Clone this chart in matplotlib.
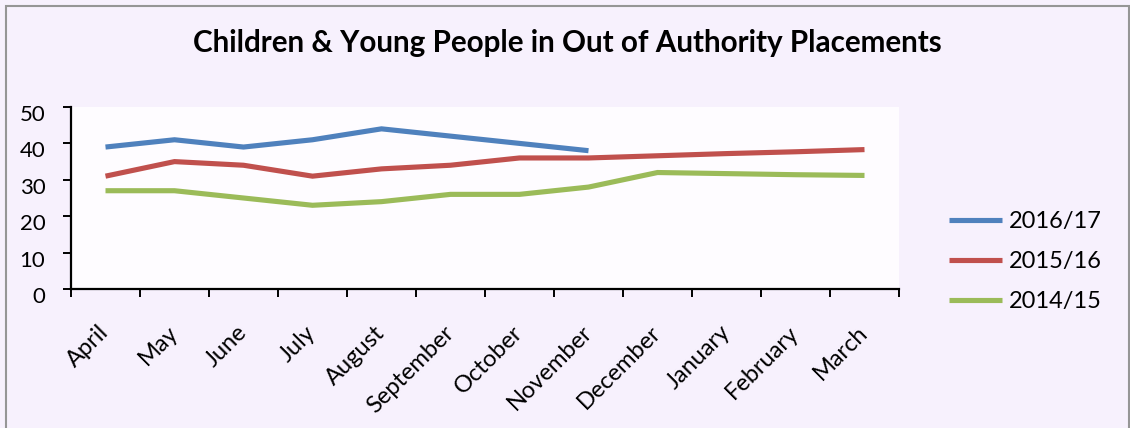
import matplotlib
matplotlib.use("Agg")
import matplotlib.pyplot as plt
import matplotlib.transforms as mtransforms
from matplotlib.patches import Rectangle

months = ["April", "May", "June", "July", "August", "September", "October",
          "November", "December", "January", "February", "March"]
series_2016_17 = [39, 41, 39, 41, 44, 42, 40, 38]
series_2015_16 = [31, 35, 34, 31, 33, 34, 36, 36, 36.6, 37.2, 37.7, 38.3]
series_2014_15 = [27, 27, 25, 23, 24, 26, 26, 28, 32, 31.7, 31.4, 31.2]
series_labels = ["2016/17", "2015/16", "2014/15"]
series_colors = ["#4F81BD", "#C0504D", "#9BBB59"]
y_ticks = [0, 10, 20, 30, 40, 50]
title = "Children & Young People in Out of Authority Placements"

W, H = 1130, 428
plt.rcParams["font.family"] = ["Lato", "DejaVu Sans"]

fig = plt.figure(figsize=(W / 100, H / 100), dpi=100)
fig.patch.set_facecolor("#F7F1FD")

# outer frame of the chart
fig.add_artist(Rectangle((5.5 / W, -0.05), (1128.5 - 5.5) / W, 1.05 - 6.5 / H,
                         transform=fig.transFigure, fill=False,
                         edgecolor="#969696", linewidth=1.5))

left, right, top, bottom = 71, 899, 107, 289
ax = fig.add_axes([left / W, 1 - bottom / H, (right - left) / W, (bottom - top) / H])
ax.set_facecolor("#FEFCFF")

centers = [i + 0.5 for i in range(len(months))]
all_series = [series_2016_17, series_2015_16, series_2014_15]
for vals, lab, col in zip(all_series, series_labels, series_colors):
    ax.plot(centers[:len(vals)], vals, color=col, lw=3.7, label=lab,
            solid_capstyle="butt", solid_joinstyle="miter")

ax.set_xlim(0, len(months))
ax.set_ylim(0, 50)
ax.set_yticks(y_ticks)
ax.set_xticks(range(len(months) + 1))
ax.set_xticklabels([])
ax.set_xticks(centers, minor=True)
ax.set_xticklabels(months, minor=True)

for s in ["top", "right"]:
    ax.spines[s].set_visible(False)
for s in ["left", "bottom"]:
    ax.spines[s].set_linewidth(1.6)
    ax.spines[s].set_color("black")

ax.tick_params(axis="y", direction="out", length=5.5, width=1.4,
               labelsize=16, pad=13)
ax.tick_params(axis="x", which="major", direction="out", length=5.5, width=1.4)
ax.tick_params(axis="x", which="minor", length=0, labelsize=17, pad=29)

offset = mtransforms.ScaledTranslation(0, -6 / 100, fig.dpi_scale_trans)
for lbl in ax.get_yticklabels():
    lbl.set_transform(lbl.get_transform() + offset)

for lbl in ax.get_xticklabels(minor=True):
    lbl.set_rotation(45)
    lbl.set_rotation_mode("anchor")
    lbl.set_ha("right")
    lbl.set_va("center")

fig.text(567.5 / W, 1 - 52 / H, title, ha="center", va="baseline",
         fontsize=21.3, fontweight="bold")

fig.legend(loc="upper left", bbox_to_anchor=(949 / W, 1 - 211 / H),
           frameon=False, fontsize=17, handlelength=2.25, handletextpad=0.3,
           labelspacing=0.8, borderpad=0, borderaxespad=0)

fig.savefig("out.png", dpi=100, facecolor=fig.get_facecolor())
